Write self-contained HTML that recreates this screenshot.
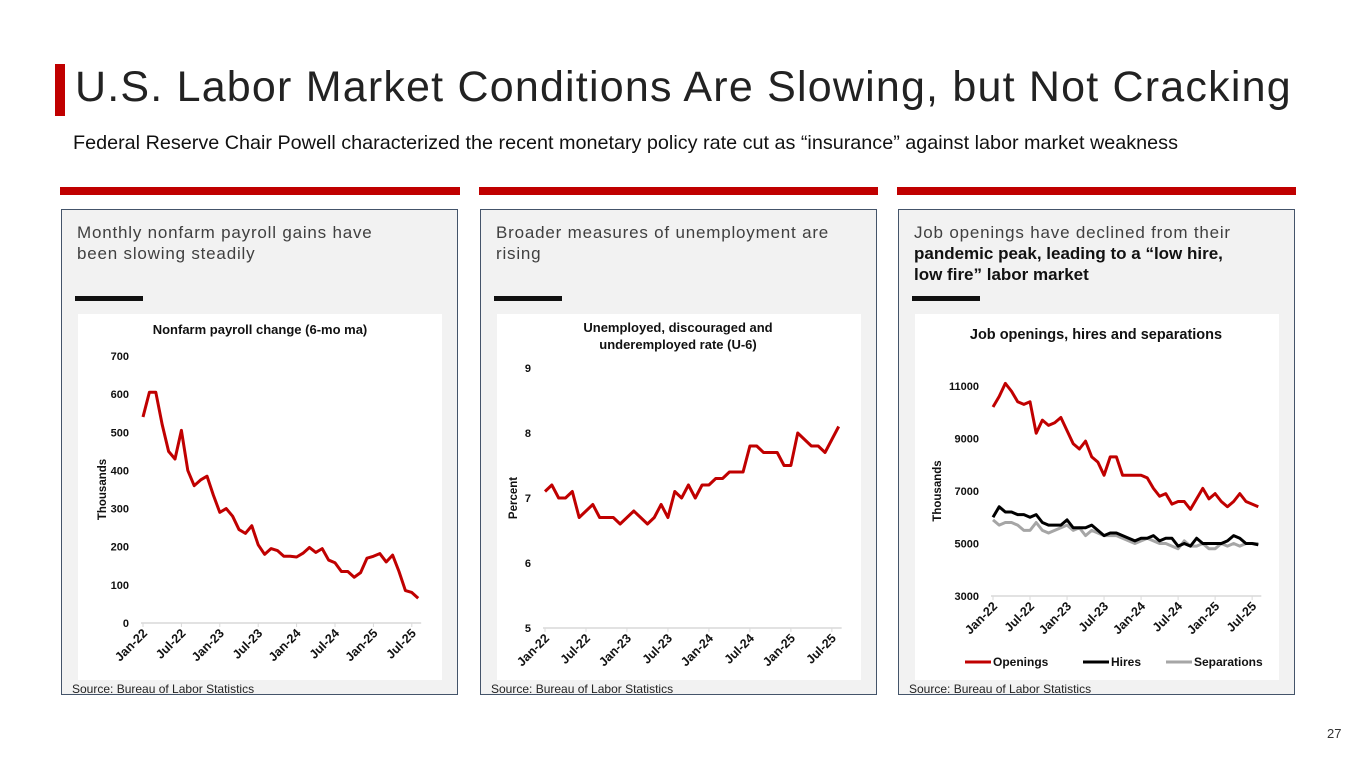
<!DOCTYPE html>
<html><head><meta charset="utf-8"><style>
body{margin:0;width:1365px;height:768px;background:#fff;position:relative;font-family:"Liberation Sans",Arial,sans-serif;overflow:hidden}
.abs{position:absolute}
.panel{position:absolute;top:209px;width:397px;height:486px;background:#f2f2f2;border:1px solid #44546a;box-sizing:border-box}
.ph{position:absolute;left:15px;top:12px;font-size:17px;color:#404040;letter-spacing:0.8px;line-height:21px;width:340px}
.ph b{letter-spacing:0;color:#111}
.bk{position:absolute;left:13px;top:86px;width:68px;height:5px;background:#111}
.wh{position:absolute;left:16px;top:104px;width:364px;height:366px;background:#fff}
.src{position:absolute;font-size:12px;color:#222;top:682px}
.rb{position:absolute;top:187px;height:8px;background:#c00000}
</style></head><body>
<div class="abs" style="left:55px;top:64px;width:10px;height:52px;background:#c00000"></div>
<div class="abs" style="left:75px;top:63px;font-size:43px;color:#222;letter-spacing:1.2px;white-space:nowrap">U.S. Labor Market Conditions Are Slowing, but Not Cracking</div>
<div class="abs" style="left:73px;top:132px;font-size:19.8px;color:#111;white-space:nowrap">Federal Reserve Chair Powell characterized the recent monetary policy rate cut as “insurance” against labor market weakness</div>
<div class="rb" style="left:60px;width:400px"></div>
<div class="rb" style="left:479px;width:399px"></div>
<div class="rb" style="left:897px;width:399px"></div>

<div class="panel" style="left:61px"><div class="ph">Monthly nonfarm payroll gains have been slowing steadily</div><div class="bk"></div><div class="wh"></div></div>
<div class="panel" style="left:480px"><div class="ph">Broader measures of unemployment are rising</div><div class="bk"></div><div class="wh"></div></div>
<div class="panel" style="left:898px"><div class="ph">Job openings have declined from their <b>pandemic peak, leading to a “low hire, low fire” labor market</b></div><div class="bk"></div><div class="wh"></div></div>
<div class="src" style="left:72px">Source: Bureau of Labor Statistics</div>
<div class="src" style="left:491px">Source: Bureau of Labor Statistics</div>
<div class="src" style="left:909px">Source: Bureau of Labor Statistics</div>
<div class="abs" style="left:1327px;top:726px;font-size:13px;color:#333">27</div>

<svg id="svg" class="abs" style="left:0;top:0" width="1365" height="768"></svg>
<script>
const xLabels=["Jan-22","Jul-22","Jan-23","Jul-23","Jan-24","Jul-24","Jan-25","Jul-25"];
const payroll=[540,605,605,520,450,430,505,400,360,375,385,335,290,300,280,245,235,255,205,180,195,190,175,175,173,183,198,185,195,165,158,135,135,120,132,170,175,182,160,178,135,85,80,65];
const payrollTicks=[0,100,200,300,400,500,600,700];
const u6=[7.1,7.2,7.0,7.0,7.1,6.7,6.8,6.9,6.7,6.7,6.7,6.6,6.7,6.8,6.7,6.6,6.7,6.9,6.7,7.1,7.0,7.2,7.0,7.2,7.2,7.3,7.3,7.4,7.4,7.4,7.8,7.8,7.7,7.7,7.7,7.5,7.5,8.0,7.9,7.8,7.8,7.7,7.9,8.1];
const u6Ticks=[5,6,7,8,9];
const openings=[10200,10600,11100,10800,10400,10300,10400,9200,9700,9500,9600,9800,9300,8800,8600,8900,8300,8100,7600,8300,8300,7600,7600,7600,7600,7500,7100,6800,6900,6500,6600,6600,6300,6700,7100,6700,6900,6600,6400,6600,6900,6600,6500,6400];
const hires=[6000,6400,6200,6200,6100,6100,6000,6100,5800,5700,5700,5700,5900,5600,5600,5600,5700,5500,5300,5400,5400,5300,5200,5100,5200,5200,5300,5100,5200,5200,4900,5000,4900,5200,5000,5000,5000,5000,5100,5300,5200,5000,5000,4950];
const separations=[5900,5700,5800,5800,5700,5500,5500,5800,5500,5400,5500,5600,5700,5500,5600,5300,5500,5400,5300,5300,5300,5200,5100,5000,5100,5200,5100,5000,5000,4900,4800,5100,4900,4900,5000,4800,4800,5000,4900,5000,4900,5000,5000,5000];
const joltsTicks=[3000,5000,7000,9000,11000];

const S=document.getElementById('svg');const NS="http://www.w3.org/2000/svg";
function el(t,a,txt){const e=document.createElementNS(NS,t);for(const k in a)e.setAttribute(k,a[k]);if(txt!=null)e.textContent=txt;S.appendChild(e);return e;}
function chart(c){
  const xf=i=>c.x0+i*c.dx;
  const yf=v=>c.yb-(v-c.min)/(c.max-c.min)*(c.yb-c.yt);
  const ax=el('line',{x1:c.x0-2,x2:xf(43)+3,y1:c.yb,y2:c.yb,stroke:'#d9d9d9','stroke-width':1.5});
  
  c.ticks.forEach(v=>{const t=el('text',{x:c.x0-14,y:yf(v)+4,'text-anchor':'end','font-size':11,'font-weight':'bold',fill:'#111'},v);
    });
  xLabels.forEach((l,k)=>{const x=xf(k*6);
    const tk=el('line',{x1:x,x2:x,y1:c.yb,y2:c.yb+4,stroke:'#d9d9d9'});
    const t=el('text',{x:x+5,y:c.yb+11,'text-anchor':'end','font-size':12.5,'font-weight':'bold',fill:'#111',transform:`rotate(-45 ${x+5} ${c.yb+11})`},l);
    });
  const yt=el('text',{x:0,y:0,'text-anchor':'middle','font-size':11.5,'font-weight':'bold',fill:'#111',transform:`translate(${c.ytx},${(c.yt+c.yb)/2}) rotate(-90)`},c.ytitle);
  
  c.title.forEach((s,i)=>{const t=el('text',{x:c.tx,y:c.ty+i*17,'text-anchor':'middle','font-size':c.tfs||13,'font-weight':'bold',fill:'#111'},s);
    });
  c.series.forEach(s=>{const p=el('polyline',{points:s.d.map((v,i)=>xf(i)+','+yf(v)).join(' '),fill:'none',stroke:s.c,'stroke-width':3,'stroke-linejoin':'round'});
    });
}
chart({x0:143,dx:6.4,yb:623,yt:356,min:0,max:700,ticks:payrollTicks,ytitle:'Thousands',ytx:106,title:['Nonfarm payroll change (6-mo ma)'],tx:260,ty:334,series:[{d:payroll,c:'#c00000',n:'payroll-line'}]});
chart({x0:545,dx:6.83,yb:628,yt:368,min:5,max:9,ticks:u6Ticks,ytitle:'Percent',ytx:517,title:['Unemployed, discouraged and','underemployed rate (U-6)'],tx:678,ty:332,series:[{d:u6,c:'#c00000',n:'u6-line'}]});
chart({x0:993,dx:6.17,yb:596,yt:386,min:3000,max:11000,ticks:joltsTicks,ytitle:'Thousands',ytx:941,title:['Job openings, hires and separations'],tfs:14.5,tx:1096,ty:339,series:[{d:separations,c:'#a6a6a6',n:'separations-line'},{d:hires,c:'#000',n:'hires-line'},{d:openings,c:'#c00000',n:'openings-line'}]});
[['Openings','#c00000',965],['Hires','#000',1083],['Separations','#a6a6a6',1166]].forEach(([n,c,x])=>{
  const l=el('line',{x1:x,x2:x+26,y1:662,y2:662,stroke:c,'stroke-width':3});
  const t=el('text',{x:x+28,y:666,'font-size':12,'font-weight':'bold',fill:'#111'},n);});
</script>
</body></html>
